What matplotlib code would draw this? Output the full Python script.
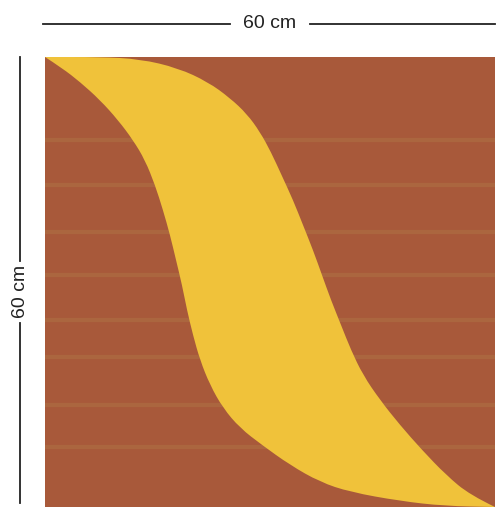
import matplotlib.pyplot as plt
from matplotlib.patches import Rectangle, PathPatch
from matplotlib.path import Path

# square size in cm
side = 60
label = "60 cm"

# yellow band, lower/left edge (x cm, y cm from top)
left_x = [0, 2.27, 4.67, 7.33, 9.73, 11.73, 13.33, 14.67, 15.73, 16.67, 17.47, 18.27, 18.93,
          19.73, 20.67, 22.0, 23.73, 26.0, 28.93, 32.67, 36.67, 40.67, 47.33, 53.33, 60]
left_y = [0, 1.47, 3.33, 5.73, 8.4, 11.07, 13.73, 17.07, 20.4, 23.73, 27.07, 30.4, 33.73,
          37.07, 40.4, 43.73, 46.8, 49.47, 51.73, 54.4, 56.67, 58.0, 59.2, 59.87, 60]

# yellow band, upper/right edge
right_x = [0, 7.33, 12.67, 17.73, 21.73, 24.67, 26.93, 28.67, 30.13, 31.6, 33.07, 34.4, 35.73,
           36.93, 38.13, 39.47, 40.8, 42.4, 44.67, 47.33, 50.27, 53.47, 56.67, 60]
right_y = [0, 0, 0.27, 1.47, 3.33, 5.47, 7.6, 10.0, 12.67, 15.87, 19.07, 22.4, 25.73,
           29.07, 32.4, 35.73, 39.07, 42.4, 45.73, 49.07, 52.4, 55.73, 58.4, 60]

# faint lighter weave stripes in the fabric (cm from top)
stripes = [11, 17, 23.3, 29, 35, 40, 46.4, 52]

brown = "#a8593a"
yellow = "#f0c23a"
ink = "#222222"


def smooth_edge(xs, ys):
    # quadratic b-spline style path through the read points
    verts = [(xs[0], ys[0])]
    codes = [Path.LINETO]
    for i in range(1, len(xs) - 1):
        mx = (xs[i] + xs[i + 1]) / 2
        my = (ys[i] + ys[i + 1]) / 2
        verts += [(xs[i], ys[i]), (mx, my)]
        codes += [Path.CURVE3, Path.CURVE3]
    verts.append((xs[-1], ys[-1]))
    codes.append(Path.LINETO)
    return verts, codes


fig = plt.figure(figsize=(4.96, 5.08), dpi=100)
fig.patch.set_facecolor("white")
ax = fig.add_axes([45 / 496, 1 / 508, 450 / 496, 450 / 508])
ax.set_xlim(0, side)
ax.set_ylim(side, 0)
ax.axis("off")

ax.add_patch(Rectangle((0, 0), side, side, facecolor=brown, edgecolor="none"))
for yy in stripes:
    ax.axhline(yy, color="#b4904e", lw=3, alpha=0.25, zorder=1)

v1, c1 = smooth_edge(left_x, left_y)
v2, c2 = smooth_edge(right_x[::-1], right_y[::-1])
c1[0] = Path.MOVETO
verts = v1 + v2 + [(0, 0)]
codes = c1 + c2 + [Path.CLOSEPOLY]
ax.add_patch(PathPatch(Path(verts, codes), facecolor=yellow, edgecolor="none", zorder=2))

# dimension marks
ytop = -4.4
ax.plot([-0.3, 24.7], [ytop, ytop], color=ink, lw=1.3, clip_on=False)
ax.plot([35.3, 60], [ytop, ytop], color=ink, lw=1.3, clip_on=False)
ax.text(30, ytop, label, ha="center", va="center", fontsize=14,
        family="Liberation Sans", color=ink, clip_on=False)

xleft = -3.3
ax.plot([xleft, xleft], [0, 27.2], color=ink, lw=1.3, clip_on=False)
ax.plot([xleft, xleft], [35.5, 59.5], color=ink, lw=1.3, clip_on=False)
ax.text(xleft, 31.3, label, ha="center", va="center", fontsize=14, rotation=90,
        family="Liberation Sans", color=ink, clip_on=False)

fig.savefig("out.png", dpi=100, facecolor="white")
